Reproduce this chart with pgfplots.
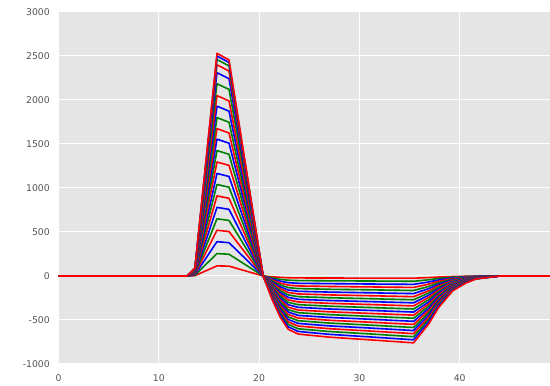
\documentclass[border=0pt]{standalone}
\usepackage{pgfplots}
\pgfplotsset{compat=1.18}
\usepackage{fontspec}
\setmainfont{DejaVu Sans}
\definecolor{bg}{HTML}{E5E5E5}
\definecolor{tl}{HTML}{555555}
\definecolor{cr}{rgb}{1,0,0}
\definecolor{cg}{rgb}{0,0.5,0}
\definecolor{cb}{rgb}{0,0,1}
\begin{document}
\begin{tikzpicture}
\begin{axis}[
 scale only axis, width=491.5pt, height=352pt,
 xmin=0, xmax=49, ymin=-1000, ymax=3000,
 axis background/.style={fill=bg},
 axis line style={draw=none},
 grid=major, major grid style={white, line width=1pt},
 xtick={0,10,20,30,40}, xticklabels={0,10,20,30,40},
 ytick={-1000,-500,...,3000},
 yticklabels={-1000,-500,0,500,1000,1500,2000,2500,3000},
 major tick length=0pt,
 tick style={draw=none},
 xticklabel style={font=\fontsize{9.3}{10}\selectfont, text=tl, inner sep=0pt, anchor=north, yshift=-10pt},
 yticklabel style={font=\fontsize{9.3}{10}\selectfont, text=tl, inner sep=0pt, anchor=east, xshift=-8.5pt},
 every axis plot/.append style={line width=1.6pt, mark=none, line join=round},
]
\addplot[cr] coordinates {(0,0)(12.8,0)(13.6,4)(15.8,115)(17,112)(20.4,0)(21.3,-9)(22.1,-15)(22.9,-20)(23.9,-22)(27,-23)(31,-24)(35.4,-25)(36.9,-18)(37.9,-12)(39.3,-6)(40.6,-3)(41.6,-1)(44,0)(49,0)};
\addplot[cg] coordinates {(0,0)(12.8,0)(13.6,9)(15.8,255)(17,247)(20.4,0)(21.3,-21)(22.1,-37)(22.9,-48)(23.9,-52)(27,-55)(31,-57)(35.4,-60)(36.9,-43)(37.9,-28)(39.3,-13)(40.6,-6)(41.6,-3)(44,0)(49,0)};
\addplot[cb] coordinates {(0,0)(12.8,0)(13.6,14)(15.8,390)(17,378)(20.4,0)(21.3,-34)(22.1,-58)(22.9,-76)(23.9,-83)(27,-87)(31,-91)(35.4,-95)(36.9,-68)(37.9,-45)(39.3,-21)(40.6,-10)(41.6,-4)(44,0)(49,0)};
\addplot[cr] coordinates {(0,0)(12.8,0)(13.6,19)(15.8,520)(17,505)(20.4,0)(21.3,-46)(22.1,-80)(22.9,-104)(23.9,-113)(27,-119)(31,-124)(35.4,-130)(36.9,-93)(37.9,-61)(39.3,-29)(40.6,-14)(41.6,-6)(44,0)(49,0)};
\addplot[cg] coordinates {(0,0)(12.8,0)(13.6,23)(15.8,650)(17,631)(20.4,0)(21.3,-58)(22.1,-101)(22.9,-132)(23.9,-143)(27,-151)(31,-157)(35.4,-165)(36.9,-119)(37.9,-78)(39.3,-37)(40.6,-17)(41.6,-8)(44,0)(49,0)};
\addplot[cb] coordinates {(0,0)(12.8,0)(13.6,28)(15.8,780)(17,757)(20.4,0)(21.3,-71)(22.1,-123)(22.9,-159)(23.9,-174)(27,-183)(31,-191)(35.4,-200)(36.9,-144)(37.9,-94)(39.3,-44)(40.6,-21)(41.6,-9)(44,0)(49,0)};
\addplot[cr] coordinates {(0,0)(12.8,0)(13.6,32)(15.8,910)(17,883)(20.4,0)(21.3,-83)(22.1,-144)(22.9,-187)(23.9,-204)(27,-215)(31,-224)(35.4,-235)(36.9,-169)(37.9,-111)(39.3,-52)(40.6,-25)(41.6,-11)(44,0)(49,0)};
\addplot[cg] coordinates {(0,0)(12.8,0)(13.6,37)(15.8,1040)(17,1009)(20.4,0)(21.3,-95)(22.1,-166)(22.9,-215)(23.9,-235)(27,-247)(31,-258)(35.4,-270)(36.9,-194)(37.9,-127)(39.3,-60)(40.6,-28)(41.6,-12)(44,0)(49,0)};
\addplot[cb] coordinates {(0,0)(12.8,0)(13.6,41)(15.8,1165)(17,1131)(20.4,0)(21.3,-108)(22.1,-187)(22.9,-243)(23.9,-265)(27,-279)(31,-291)(35.4,-305)(36.9,-219)(37.9,-144)(39.3,-68)(40.6,-32)(41.6,-14)(44,0)(49,0)};
\addplot[cr] coordinates {(0,0)(12.8,0)(13.6,46)(15.8,1295)(17,1257)(20.4,0)(21.3,-120)(22.1,-209)(22.9,-271)(23.9,-295)(27,-311)(31,-324)(35.4,-340)(36.9,-244)(37.9,-160)(39.3,-75)(40.6,-36)(41.6,-16)(44,0)(49,0)};
\addplot[cg] coordinates {(0,0)(12.8,0)(13.6,51)(15.8,1425)(17,1383)(20.4,0)(21.3,-132)(22.1,-230)(22.9,-299)(23.9,-326)(27,-343)(31,-358)(35.4,-375)(36.9,-270)(37.9,-177)(39.3,-83)(40.6,-39)(41.6,-17)(44,0)(49,0)};
\addplot[cb] coordinates {(0,0)(12.8,0)(13.6,55)(15.8,1555)(17,1509)(20.4,0)(21.3,-145)(22.1,-252)(22.9,-327)(23.9,-356)(27,-375)(31,-391)(35.4,-410)(36.9,-295)(37.9,-193)(39.3,-91)(40.6,-43)(41.6,-19)(44,0)(49,0)};
\addplot[cr] coordinates {(0,0)(12.8,0)(13.6,60)(15.8,1675)(17,1625)(20.4,0)(21.3,-157)(22.1,-273)(22.9,-355)(23.9,-387)(27,-407)(31,-425)(35.4,-445)(36.9,-320)(37.9,-210)(39.3,-99)(40.6,-47)(41.6,-20)(44,0)(49,0)};
\addplot[cg] coordinates {(0,0)(12.8,0)(13.6,64)(15.8,1800)(17,1747)(20.4,0)(21.3,-169)(22.1,-295)(22.9,-383)(23.9,-417)(27,-439)(31,-458)(35.4,-480)(36.9,-345)(37.9,-226)(39.3,-107)(40.6,-50)(41.6,-22)(44,0)(49,0)};
\addplot[cb] coordinates {(0,0)(12.8,0)(13.6,69)(15.8,1930)(17,1873)(20.4,0)(21.3,-182)(22.1,-316)(22.9,-410)(23.9,-448)(27,-471)(31,-491)(35.4,-515)(36.9,-370)(37.9,-243)(39.3,-114)(40.6,-54)(41.6,-24)(44,0)(49,0)};
\addplot[cr] coordinates {(0,0)(12.8,0)(13.6,73)(15.8,2050)(17,1989)(20.4,0)(21.3,-194)(22.1,-338)(22.9,-438)(23.9,-478)(27,-503)(31,-525)(35.4,-550)(36.9,-395)(37.9,-259)(39.3,-122)(40.6,-58)(41.6,-25)(44,0)(49,0)};
\addplot[cg] coordinates {(0,0)(12.8,0)(13.6,78)(15.8,2185)(17,2120)(20.4,0)(21.3,-207)(22.1,-359)(22.9,-466)(23.9,-508)(27,-535)(31,-558)(35.4,-585)(36.9,-421)(37.9,-276)(39.3,-130)(40.6,-61)(41.6,-27)(44,0)(49,0)};
\addplot[cb] coordinates {(0,0)(12.8,0)(13.6,82)(15.8,2310)(17,2242)(20.4,0)(21.3,-219)(22.1,-381)(22.9,-494)(23.9,-539)(27,-567)(31,-591)(35.4,-620)(36.9,-446)(37.9,-292)(39.3,-138)(40.6,-65)(41.6,-29)(44,0)(49,0)};
\addplot[cr] coordinates {(0,0)(12.8,0)(13.6,85)(15.8,2400)(17,2329)(20.4,0)(21.3,-231)(22.1,-402)(22.9,-522)(23.9,-569)(27,-599)(31,-625)(35.4,-655)(36.9,-471)(37.9,-309)(39.3,-145)(40.6,-69)(41.6,-30)(44,0)(49,0)};
\addplot[cg] coordinates {(0,0)(12.8,0)(13.6,88)(15.8,2460)(17,2387)(20.4,0)(21.3,-244)(22.1,-424)(22.9,-550)(23.9,-600)(27,-631)(31,-658)(35.4,-690)(36.9,-496)(37.9,-325)(39.3,-153)(40.6,-72)(41.6,-32)(44,0)(49,0)};
\addplot[cb] coordinates {(0,0)(12.8,0)(13.6,89)(15.8,2500)(17,2426)(20.4,0)(21.3,-256)(22.1,-445)(22.9,-578)(23.9,-630)(27,-663)(31,-692)(35.4,-725)(36.9,-521)(37.9,-341)(39.3,-161)(40.6,-76)(41.6,-33)(44,0)(49,0)};
\addplot[cr] coordinates {(0,0)(12.8,0)(13.6,90)(15.8,2530)(17,2455)(20.4,0)(21.3,-268)(22.1,-467)(22.9,-606)(23.9,-660)(27,-695)(31,-725)(35.4,-760)(36.9,-546)(37.9,-358)(39.3,-169)(40.6,-80)(41.6,-35)(44,0)(49,0)};
\end{axis}
\pgfresetboundingbox
\path[use as bounding box] ([shift={(-58.5pt,-22pt)}]current axis.south west) rectangle ([shift={(0pt,12pt)}]current axis.north east);
\end{tikzpicture}
\end{document}
